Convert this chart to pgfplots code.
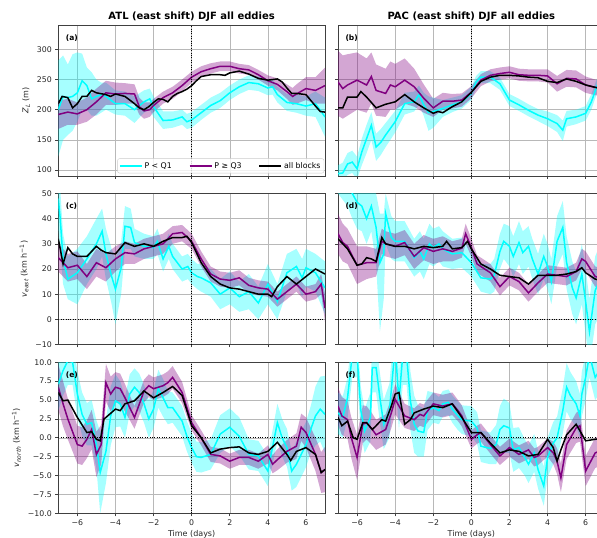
\documentclass[border=0pt]{standalone}
\usepackage{fontspec}
\setmainfont{DejaVu Sans}
\usepackage{pgfplots}
\pgfplotsset{compat=1.18}
\usepackage{pgfplotstable}
\usepgfplotslibrary{fillbetween}
\definecolor{mcyan}{HTML}{00FFFF}
\definecolor{mpurple}{HTML}{800080}

% ---------------- panel (a) ----------------
\pgfplotstableread{
x y lo hi
-7.0 200 122 282
-6.75 222 150 290
-6.5 220 158 275
-6.25 222 165 292
-6.0 228 180 295
-5.75 248 200 293
-5.5 240 200 270
-5.25 218 190 262
-5.0 222 190 250
-4.75 225 195 245
-4.5 222 200 245
-4.0 210 192 232
-3.5 210 190 230
-3.0 200 178 222
-2.5 213 195 232
-2.2 218 200 235
-2.0 205 188 222
-1.5 182 168 197
-1.0 183 170 197
-0.5 188 175 200
-0.25 180 168 193
0.0 183 170 196
0.5 195 183 208
1.0 207 195 220
1.5 215 203 228
2.0 228 216 240
2.5 238 226 250
3.0 245 233 257
3.5 243 231 255
4.0 236 224 248
4.25 238 225 250
4.5 225 212 238
5.0 212 198 226
5.5 210 195 225
6.0 206 190 222
6.5 210 188 230
7.0 188 155 220
}\aC
\pgfplotstableread{
x y lo hi
-7.0 192 168 215
-6.5 196 175 218
-6.0 193 175 212
-5.5 200 180 220
-5.0 213 192 235
-4.5 228 208 248
-4.0 226 208 245
-3.5 227 210 244
-3.0 226 210 242
-2.75 205 192 220
-2.5 198 185 212
-2.2 200 188 212
-2.0 207 196 218
-1.5 220 210 230
-1.0 228 218 238
-0.5 240 230 250
0.0 254 245 263
0.5 263 254 272
1.0 268 260 277
1.5 272 264 280
2.0 272 264 280
2.5 268 260 276
3.0 266 258 274
3.5 258 250 266
4.0 248 240 257
4.5 242 232 252
5.0 230 218 242
5.3 222 208 236
5.5 226 210 242
6.0 235 216 254
6.5 232 210 254
7.0 240 210 270
}\aP
\pgfplotstableread{
x y
-7.0 210
-6.8 222
-6.5 220
-6.25 203
-6.0 210
-5.75 222
-5.5 222
-5.25 232
-5.0 228
-4.5 225
-4.25 222
-4.0 226
-3.5 222
-3.0 210
-2.75 203
-2.5 200
-2.25 205
-2.0 212
-1.75 218
-1.5 217
-1.25 213
-1.0 222
-0.75 227
-0.5 230
-0.25 234
0.0 240
0.25 248
0.5 255
1.0 258
1.5 258
1.75 257
2.0 261
2.5 264
3.0 259
3.5 252
4.0 249
4.5 251
4.75 246
5.0 236
5.25 227
5.5 227
6.0 225
6.5 206
6.75 197
7.0 196
}\aK
% ---------------- panel (b) ----------------
\pgfplotstableread{
x y lo hi
-7.0 94 80 108
-6.75 95 80 112
-6.5 110 92 128
-6.25 113 95 132
-6.0 102 85 122
-5.75 130 108 152
-5.5 152 128 175
-5.25 174 150 196
-5.0 138 115 160
-4.75 146 125 168
-4.5 158 138 178
-4.0 180 162 198
-3.5 210 192 228
-3.0 213 197 230
-2.75 225 208 240
-2.5 208 190 228
-2.25 195 165 222
-2.0 197 170 220
-1.5 202 188 216
-1.0 208 196 220
-0.5 213 202 224
0.0 227 216 238
0.25 246 236 256
0.5 254 244 264
1.0 254 244 264
1.5 243 233 253
2.0 216 206 226
2.5 208 198 218
3.0 199 189 209
3.5 191 181 201
4.0 185 173 197
4.5 177 163 191
4.8 166 148 182
5.0 185 172 198
5.5 188 176 200
6.0 194 182 206
6.3 213 200 226
6.6 240 228 252
7.0 245 233 257
}\bC
\pgfplotstableread{
x y lo hi
-7.0 246 190 298
-6.75 235 185 290
-6.5 241 190 292
-6.0 249 200 295
-5.5 241 195 285
-5.25 255 210 295
-5.0 232 190 275
-4.5 227 188 268
-4.25 241 200 280
-4.0 238 200 276
-3.5 249 210 285
-3.0 238 205 268
-2.5 219 195 242
-2.0 203 188 218
-1.5 214 200 228
-1.0 214 202 226
-0.5 216 205 227
0.0 229 219 239
0.5 249 239 259
1.0 257 247 267
1.5 260 250 270
2.0 262 252 272
2.5 258 248 268
3.0 257 247 267
3.5 257 247 267
4.0 256 245 267
4.5 243 230 256
5.0 252 238 266
5.5 251 237 265
6.0 241 228 255
6.5 237 224 250
7.0 235 222 248
}\bP
\pgfplotstableread{
x y
-7.0 203
-6.75 203
-6.5 221
-6.0 221
-5.8 230
-5.5 221
-5.0 203
-4.5 209
-4.0 213
-3.5 225
-3.0 213
-2.5 203
-2.0 194
-1.75 197
-1.5 195
-1.0 205
-0.5 213
0.0 229
0.5 247
1.0 254
1.5 257
2.0 257
2.5 256
3.0 254
3.5 253
4.0 247
4.5 245
5.0 251
5.5 247
6.0 241
6.5 237
7.0 235
}\bK
% ---------------- panel (c) ----------------
\pgfplotstableread{
x y lo hi
-7.0 48 36 60
-6.9 40 28 52
-6.75 24 14 34
-6.5 16 8 25
-6.0 18.5 6 28
-5.5 24 14 33
-5.0 30 20 40
-4.7 35 25 44
-4.5 26 16 36
-4.2 17 6 28
-4.0 12 -2 24
-3.7 20.5 10 31
-3.5 37 28 45
-3.2 36.5 28 44
-3.0 30.5 25 36
-2.5 29 24 34
-2.0 28.5 24 33
-1.8 31 26 36
-1.5 24 19 29
-1.2 29 24 34
-1.0 25 20 30
-0.5 20 15 25
-0.2 21 16 26
0.0 18.5 14 24
0.3 17 12 22
0.5 16.5 11 22
1.0 14.5 9 20
1.5 10 4 16
2.0 12.5 6 19
2.5 9 3 15
3.0 11 4 18
3.5 6.5 0 13
4.0 14 6 22
4.5 7 0 14
5.0 18.5 11 26
5.5 21 14 28
5.8 16.5 9 24
6.0 20.5 13 28
6.5 18.5 11 26
7.0 12.5 2 23
}\cC
\pgfplotstableread{
x y lo hi
-7.0 24.5 19 30
-6.5 20.5 15 26
-6.0 21.5 16 27
-5.5 17 12 22
-5.0 22.5 17 28
-4.5 20.5 15 26
-4.0 24 19 29
-3.5 26.5 22 31
-3.0 26 22 30
-2.5 28 24 32
-2.0 29 25 33
-1.5 30 26 34
-1.0 34 30 37
-0.5 34.5 31 37.5
0.0 31 28 34
0.5 24 21 27
1.0 18 15 21
1.5 16 13 19
2.0 15.5 12.5 18.5
2.5 16.5 13.5 19.5
3.0 13.5 10.5 16.5
3.5 12.5 9.5 15.5
4.0 12 9 15
4.5 8 5 11
5.0 11 8 14
5.5 14 11 17
6.0 10 7 13
6.5 11 8 14
6.8 14 10 18
7.0 4.5 -1 10
}\cP
\pgfplotstableread{
x y
-7.0 32
-6.75 22
-6.5 28.5
-6.25 26
-6.0 25
-5.5 25
-5.0 29
-4.75 27.5
-4.5 26.5
-4.0 26
-3.5 30.5
-3.0 29
-2.5 30
-2.0 29
-1.5 31
-1.0 32.5
-0.5 32.5
-0.25 33
0.0 30.5
0.5 22.5
1.0 17
1.5 14
2.0 12.5
2.5 12
3.0 11
3.5 10
4.0 10
4.2 9
4.5 13
5.0 17
5.5 14
6.0 17
6.5 20
7.0 18
}\cK
% ---------------- panel (d) ----------------
\pgfplotstableread{
x y lo hi
-7.0 60 50 70
-6.5 55 45 65
-6.25 50 40 60
-6.0 46.5 36 57
-5.75 45 35 55
-5.5 40 30 50
-5.25 45 35 55
-5.0 36.5 22 50
-4.8 22.5 -5 42
-4.6 26 8 42
-4.5 42 30 50
-4.2 32.5 24 41
-4.0 31 23 39
-3.5 31 23 39
-3.0 24.5 17 32
-2.7 27 19 35
-2.5 24 16 32
-2.2 30 22 38
-2.0 28.5 21 36
-1.7 30 23 37
-1.5 28 21 35
-1.0 26 20 32
-0.5 26.5 20.5 32.5
0.0 22.5 17 28
0.5 16.5 11 22
1.0 16 10 22
1.2 17.5 11 24
1.5 27 20 34
1.7 31 24 38
2.0 29 21 37
2.2 25 17 33
2.5 30.5 22 39
2.7 26.5 18 35
3.0 29 21 37
3.2 24 16 32
3.5 18 10 26
3.8 25 16 34
4.0 21 12 30
4.2 15 6 24
4.5 31 21 41
4.8 36.5 26 47
5.0 22.5 12 33
5.3 12.5 2 23
5.5 8.5 -2 19
5.8 18 6 30
6.0 7 -6 20
6.2 -5 -18 8
6.5 11.5 -2 25
7.0 20 6 34
}\dC
\pgfplotstableread{
x y lo hi
-7.0 34 26 42
-6.75 30.5 23 38
-6.5 29 22 36
-6.0 21.5 14 29
-5.5 22.5 16 29
-5.0 22.5 17 28
-4.7 31 26 36
-4.5 30 25 35
-4.0 29 24 34
-3.5 30.5 25.5 35.5
-3.0 25 20 30
-2.5 28.5 23.5 33.5
-2.0 27 22 32
-1.5 28 23 33
-1.0 27 23 31
-0.5 28.3 24.5 32
-0.3 34 30 38
0.0 28.5 25 32
0.3 22 18.5 25.5
0.5 21 17.5 24.5
1.0 18.5 15 22
1.5 13 9.5 16.5
2.0 17 13.5 20.5
2.5 15 11.5 18.5
3.0 10.5 7 14
3.5 14.5 11 18
4.0 18 14.5 21.5
4.5 17.5 14 21
5.0 17 13.5 20.5
5.5 19 15.5 22.5
5.8 24 20 28
6.0 23 19 27
6.5 17 13 21
7.0 16 12 20
}\dP
\pgfplotstableread{
x y
-7.0 32
-6.5 28
-6.0 21.5
-5.75 22
-5.5 24.5
-5.25 24
-5.0 23
-4.7 32.5
-4.5 30
-4.0 29
-3.5 29
-3.0 28
-2.5 29
-2.0 28.5
-1.5 29
-1.3 31
-1.0 28
-0.5 28.5
-0.2 31
0.0 28
0.5 22
1.0 20
1.5 17.5
2.0 17
2.5 16.5
3.0 14
3.5 17.5
4.0 17.5
4.5 17.5
5.0 18
5.5 19
5.8 20.5
6.0 18.5
6.5 16
7.0 15
}\dK
% ---------------- panel (e) ----------------
\pgfplotstableread{
x y lo hi
-7.0 7.1 3.6 10.6
-6.75 8.9 5.6 12
-6.5 10.2 7 13.5
-6.25 10 7 13
-6.0 5.8 2.8 8.8
-5.75 3.1 0.3 6
-5.5 1.8 -1 4.6
-5.25 2 -1 5
-5.0 -0.9 -4 2.3
-4.8 -4.6 -10 0.8
-4.5 -1.8 -6 2.4
-4.25 2.9 -1 6.8
-4.0 4.9 1.4 8.4
-3.75 4.5 1.5 7.5
-3.5 2.7 0 5.4
-3.25 5.8 3.2 8.4
-3.0 6.7 4.2 9.2
-2.75 6 3.5 8.5
-2.5 4.5 2 7
-2.25 2.5 0 5
-2.0 3.8 1.3 6.3
-1.75 6.5 4 9
-1.5 5.3 2.8 7.8
-1.25 4 1.8 6.2
-1.0 4 2 6
-0.5 2.2 0.2 4.2
-0.25 0.2 -1.8 2.2
0.0 -1.3 -3.3 0.7
0.25 -2.5 -4.5 -0.5
0.5 -2.6 -4.6 -0.6
1.0 -2.2 -4.2 -0.2
1.5 0.5 -2 3
2.0 1.4 -1.1 3.9
2.5 0.2 -2.3 2.7
3.0 -2.2 -4.2 -0.2
3.5 -2.4 -4.4 -0.4
4.0 -4.4 -6.4 -2.4
4.5 2 -0.5 4.5
4.75 0 -2.5 2.5
5.0 -1.3 -3.8 1.2
5.25 -4.4 -7 -1.8
5.5 -3.5 -6.5 -0.5
6.0 -0.9 -3.9 2.1
6.25 1.1 -2 4.2
6.5 2.9 -1 6.8
6.75 3.8 -0.5 8.1
7.0 3.1 -2 8.2
}\eC
\pgfplotstableread{
x y lo hi
-7.0 6.7 3.7 9.7
-6.75 4.5 1.5 7.5
-6.5 2.5 -0.2 5.2
-6.0 -0.9 -3.4 1.6
-5.75 -1.1 -3.6 1.4
-5.5 -0.2 -2.7 2.3
-5.25 1.1 -1.5 3.7
-5.0 -2.2 -5.2 0.8
-4.75 -0.9 -3.5 1.7
-4.5 7.3 4.8 9.8
-4.25 5.8 3.5 8.1
-4.0 6.7 4.7 8.7
-3.75 6.5 4.5 8.5
-3.5 5.3 3.5 7.1
-3.0 2.7 1.2 4.2
-2.5 6.2 4.7 7.7
-2.25 6.9 5.4 8.4
-2.0 6.5 5 8
-1.5 6.9 5.4 8.4
-1.25 7.3 5.8 8.8
-1.0 8 6.5 9.5
-0.5 6 4.6 7.4
0.0 2 1 3
0.5 0 -1 1
1.0 -2.2 -3.2 -1.2
1.5 -2.4 -3.4 -1.4
2.0 -3.1 -4.1 -2.1
2.5 -2.6 -3.6 -1.6
3.0 -2.6 -3.6 -1.6
3.5 -3.1 -4.1 -2.1
4.0 -2.2 -3.4 -1
4.25 -3.5 -4.7 -2.3
4.5 -2.9 -4.3 -1.5
5.0 -1.8 -3.3 -0.3
5.5 -1.1 -2.8 0.6
5.75 1.4 -0.4 3.2
6.0 0.7 -1.3 2.7
6.5 -2.2 -4.4 0
6.8 -4.6 -7.3 -1.9
7.0 -4.2 -7.2 -1.2
}\eP
\pgfplotstableread{
x y
-7.0 6
-6.75 4.9
-6.5 5
-6.0 2.7
-5.5 0.7
-5.25 0.8
-5.0 -0.2
-4.8 -0.4
-4.6 2.5
-4.5 2.7
-4.0 3.8
-3.75 3.6
-3.5 4.5
-3.0 4.9
-2.5 6.2
-2.0 5.3
-1.5 6
-1.0 6.8
-0.5 5.6
0.0 1.6
0.5 0
1.0 -2
1.5 -1.5
2.0 -1.3
2.5 -1.2
3.0 -2
3.5 -2.2
4.0 -1.8
4.5 -0.6
5.0 -2.2
5.2 -3
5.5 -1.8
6.0 -1.3
6.5 -2.2
6.8 -4.6
7.0 -4.2
}\eK
% ---------------- panel (f) ----------------
\pgfplotstableread{
x y lo hi
-7.0 3.3 0.5 6
-6.75 2.7 0 5.5
-6.5 5.3 2.5 8
-6.25 11 8 14
-6.0 11 8 14
-5.8 3.6 0.5 6.7
-5.6 0.9 -2 3.8
-5.3 2.7 -0.5 6
-5.2 9.3 6 12.6
-5.0 9.3 6 12.6
-4.8 5.3 2 8.6
-4.6 1.8 -1.5 5
-4.3 3.6 0 7.2
-4.0 12 8 16
-3.8 4.9 1 8.8
-3.6 11 7 15
-3.4 11 7 15
-3.2 4.9 1 8.8
-3.0 1.8 -2 5.6
-2.8 0.9 -2.5 4.3
-2.5 0.7 -2.5 3.9
-2.3 3.6 1 6.2
-2.0 4 2 6
-1.7 3.6 1.8 5.4
-1.5 4.5 2.8 6.2
-1.2 4.7 3 6.4
-1.0 3.8 2 5.6
-0.7 2.9 1 4.8
-0.5 2.4 0.5 4.3
0.0 2.2 0.2 4.2
0.3 1.3 -0.8 3.4
0.5 -1.1 -3.2 1
0.8 -1.3 -3.4 0.8
1.0 -1.4 -3.5 0.7
1.3 -0.9 -3.5 1.7
1.5 1.1 -2 4.2
1.7 1.6 -2 5.2
2.0 1.3 -2 4.6
2.2 -1.6 -4.5 1.3
2.5 -1.3 -4 1.4
2.8 -2.6 -5 -0.2
3.0 -3.5 -6 -1
3.3 -2 -4.5 0.5
3.5 -4.2 -6.7 -1.7
3.8 -6.4 -9 -3.8
4.0 -2.6 -5.2 0
4.3 -0.7 -3.5 2.1
4.5 0 -2.8 2.8
4.8 3.6 0.6 6.6
5.0 6.7 3.5 9.9
5.2 5.6 2.5 8.7
5.5 4.5 1.5 7.5
5.7 2.9 0 5.8
5.8 5.8 2.8 8.8
6.0 8 5 11
6.2 11 8 14
6.5 8 5 11
7.0 10 7 13
}\fC
\pgfplotstableread{
x y lo hi
-7.0 4.2 1.7 6.7
-6.8 2.9 0.4 5.4
-6.5 2.4 -0.1 4.9
-6.3 0 -2.7 2.7
-6.0 -2.6 -5.6 0.4
-5.7 1.8 -0.7 4.3
-5.5 2 -0.2 4.2
-5.2 1.1 -1 3.2
-5.0 0.4 -1.6 2.4
-4.5 1.1 -0.9 3.1
-4.2 3.3 1.3 5.3
-4.0 5.1 3.1 7.1
-3.5 2.9 1.3 4.5
-3.0 2.4 0.9 3.9
-2.7 3.1 1.6 4.6
-2.5 2.9 1.4 4.4
-2.0 4.5 3 6
-1.5 4.2 2.7 5.7
-1.0 4.5 3 6
-0.7 3.6 2.2 5
-0.5 2.9 1.5 4.3
0.0 -0.2 -1.4 1
0.3 0.4 -0.8 1.6
0.5 0.7 -0.5 1.9
1.0 -0.9 -2.1 0.3
1.5 -2.4 -3.6 -1.2
2.0 -1.3 -2.5 -0.1
2.5 -2.2 -3.4 -1
3.0 -1.6 -2.8 -0.4
3.3 -2.6 -3.8 -1.4
3.5 -2.4 -3.6 -1.2
4.0 -1.3 -2.5 -0.1
4.3 -2 -3.5 -0.5
4.5 -3.1 -4.8 -1.4
4.7 -5.3 -7.2 -3.4
5.0 -0.9 -2.8 1
5.5 1.3 -0.7 3.3
5.7 1.6 -0.5 3.7
6.0 -4.4 -6.4 -2.4
6.5 -2 -4 0
7.0 -1.5 -3.5 0.5
}\fP
\pgfplotstableread{
x y
-7.0 2.7
-6.8 1.6
-6.5 2.2
-6.2 0
-6.0 -0.2
-5.7 2
-5.5 2
-5.2 1.1
-5.0 1.6
-4.7 2.4
-4.5 2.2
-4.2 4.2
-4.0 5.8
-3.8 6
-3.5 1.8
-3.2 2.4
-3.0 3.3
-2.7 3.6
-2.5 3.8
-2.0 4.2
-1.5 4
-1.0 4.5
-0.5 2.7
0.0 0.7
0.5 0.7
1.0 -0.7
1.5 -2
2.0 -1.6
2.5 -1.8
3.0 -2.4
3.5 -2.2
4.0 -0.2
4.3 -1.3
4.5 -3.1
4.7 -1.6
5.0 0.4
5.5 1.8
6.0 -0.4
6.5 -0.2
7.0 0
}\fK

\newcommand{\drawpanel}[3]{%
  \addplot[draw=none, name path=cu, forget plot] table[x=x,y=hi]{#1};
  \addplot[draw=none, name path=cl, forget plot] table[x=x,y=lo]{#1};
  \addplot[fill=mcyan, fill opacity=0.35, draw=none, forget plot] fill between[of=cu and cl];
  \addplot[draw=none, name path=pu, forget plot] table[x=x,y=hi]{#2};
  \addplot[draw=none, name path=pl, forget plot] table[x=x,y=lo]{#2};
  \addplot[fill=mpurple, fill opacity=0.35, draw=none, forget plot] fill between[of=pu and pl];
  \addplot[mcyan, line width=1.5pt, forget plot] table[x=x,y=y]{#1};
  \addplot[mpurple, line width=1.5pt, forget plot] table[x=x,y=y]{#2};
  \addplot[black, line width=1.5pt, forget plot] table[x=x,y=y]{#3};
}

\tikzset{
  zl/.style={black, line width=0.9pt, dash pattern=on 0.9pt off 1.5pt},
  plab/.style={anchor=north west, font=\bfseries\fontsize{7.5}{9}\selectfont},
}
\pgfplotsset{
  panel/.style={
    scale only axis, width=266.7pt, height=151pt, anchor=south west,
    xmin=-7, xmax=7, xtick={-6,-4,...,6},
    tick pos=left, tick align=outside, major tick length=3pt,
    axis line style={black!75, line width=0.7pt},
    tick style={black!75, line width=0.6pt},
    grid=major, major grid style={black!28, line width=0.5pt},
    tick label style={font=\fontsize{7.8}{9}\selectfont, text=black!85},
    label style={font=\fontsize{8}{9.5}\selectfont, text=black!85},
    every axis title shift=0pt,
    title style={font=\bfseries\fontsize{10}{12}\selectfont},
    xticklabels={},
  },
  botx/.style={xticklabels={−6,−4,−2,0,2,4,6}, xlabel={Time (days)},
    xlabel style={yshift=2.5pt}},
  rowa/.style={ymin=90, ymax=340.5, ytick={100,150,...,300}},
  rowc/.style={ymin=-10, ymax=50, ytick={-10,0,...,50}},
  rowe/.style={ymin=-10, ymax=10, ytick={-10,-7.5,...,10}},
}

\begin{document}
\begin{tikzpicture}
% (a)
\begin{axis}[panel, rowa, at={(58.3pt,362pt)},
  yticklabels={100,150,200,250,300},
  ylabel={{\itshape Z}\textsubscript{\itshape L} (m)},
  title={ATL (east shift) DJF all eddies},
  legend style={at={(0.997,0.018)}, anchor=south east, legend columns=3,
    draw=black!20, rounded corners=2pt, fill=white, fill opacity=0.8, text opacity=1,
    font=\fontsize{7.8}{9}\selectfont, inner sep=1.5pt,
    /tikz/every even column/.append style={column sep=15pt}}]
\addlegendimage{legend image code/.code={\draw[mcyan, line width=1.5pt] (0pt,0pt) -- (22pt,0pt);}}
\addlegendentry{P < Q1}
\addlegendimage{legend image code/.code={\draw[mpurple, line width=1.5pt] (0pt,0pt) -- (22pt,0pt);}}
\addlegendentry{P ≥ Q3}
\addlegendimage{legend image code/.code={\draw[black, line width=1.5pt] (0pt,0pt) -- (22pt,0pt);}}
\addlegendentry{all blocks}
\drawpanel{\aC}{\aP}{\aK}
\draw[zl] (axis cs:0,90) -- (axis cs:0,340.5);
\node[plab] at (rel axis cs:0.015,0.96) {(a)};
\end{axis}
% (b)
\begin{axis}[panel, rowa, at={(338pt,362pt)}, yticklabels={},
  title={PAC (east shift) DJF all eddies}]
\drawpanel{\bC}{\bP}{\bK}
\draw[zl] (axis cs:0,90) -- (axis cs:0,340.5);
\node[plab] at (rel axis cs:0.015,0.96) {(b)};
\end{axis}
% (c)
\begin{axis}[panel, rowc, at={(58.3pt,193.5pt)},
  yticklabels={−10,0,10,20,30,40,50},
  ylabel={{\itshape v}\textsubscript{\itshape east} (km h\textsuperscript{−1})}]
\drawpanel{\cC}{\cP}{\cK}
\draw[zl] (axis cs:0,-10) -- (axis cs:0,50);
\draw[zl] (axis cs:-7,0) -- (axis cs:7,0);
\node[plab] at (rel axis cs:0.015,0.96) {(c)};
\end{axis}
% (d)
\begin{axis}[panel, rowc, at={(338pt,193.5pt)}, yticklabels={}]
\drawpanel{\dC}{\dP}{\dK}
\draw[zl] (axis cs:0,-10) -- (axis cs:0,50);
\draw[zl] (axis cs:-7,0) -- (axis cs:7,0);
\node[plab] at (rel axis cs:0.015,0.96) {(d)};
\end{axis}
% (e)
\begin{axis}[panel, rowe, botx, at={(58.3pt,24.7pt)},
  yticklabels={−10.0,−7.5,−5.0,−2.5,0.0,2.5,5.0,7.5,10.0},
  ylabel={{\itshape v}\textsubscript{\itshape north} (km h\textsuperscript{−1})}]
\drawpanel{\eC}{\eP}{\eK}
\draw[zl] (axis cs:0,-10) -- (axis cs:0,10);
\draw[zl] (axis cs:-7,0) -- (axis cs:7,0);
\node[plab] at (rel axis cs:0.015,0.96) {(e)};
\end{axis}
% (f)
\begin{axis}[panel, rowe, botx, at={(338pt,24.7pt)}, yticklabels={}]
\drawpanel{\fC}{\fP}{\fK}
\draw[zl] (axis cs:0,-10) -- (axis cs:0,10);
\draw[zl] (axis cs:-7,0) -- (axis cs:7,0);
\node[plab] at (rel axis cs:0.015,0.96) {(f)};
\end{axis}
\pgfresetboundingbox
\useasboundingbox (0,0) rectangle (597pt,538pt);
\end{tikzpicture}
\end{document}
